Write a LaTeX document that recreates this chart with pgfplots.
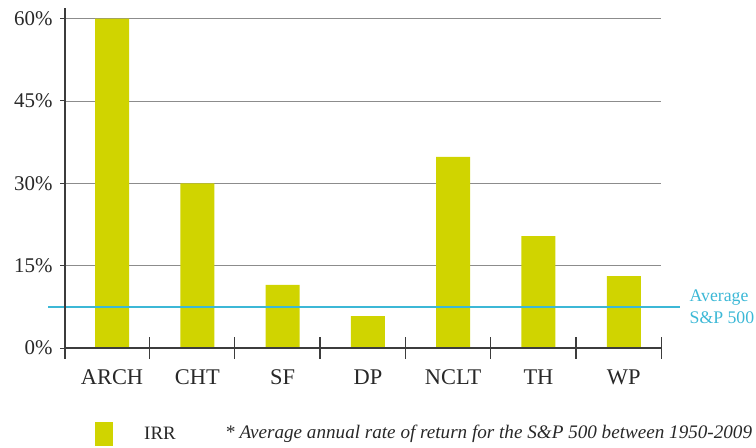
\documentclass[border=0pt]{standalone}
\usepackage{pgfplots}
\pgfplotsset{compat=1.18}
\usepackage{fontspec}
\setmainfont{Liberation Serif}
\definecolor{barc}{RGB}{208,212,0}
\definecolor{avgc}{RGB}{60,184,214}
\definecolor{axc}{RGB}{60,60,60}
\definecolor{gridc}{RGB}{140,140,140}
\definecolor{txtc}{RGB}{40,40,40}
\begin{document}
\begin{tikzpicture}
\useasboundingbox (0,0) rectangle (756bp,448bp);
\begin{axis}[
  at={(65.1bp,89bp)}, anchor=south west,
  scale only axis, width=596.2bp, height=350.8bp,
  xmin=-0.55, xmax=6.44, ymin=-2, ymax=61.9,
  axis line style={draw=none},
  clip=false,
  xtick={0,1,2,3,4,5,6},
  xticklabels={ARCH,CHT,SF,DP,NCLT,TH,WP},
  x tick label style={font=\fontsize{22.5}{26}\selectfont, text=txtc, yshift=-2bp},
  major x tick style={draw=none},
  ytick={0,15,30,45,60},
  yticklabels={0\%,15\%,30\%,45\%,60\%},
  ytick pos=left,
  y tick label style={font=\fontsize{21}{24}\selectfont, text=txtc, xshift=-4bp},
  y tick style={axc, line width=1bp},
  tick align=outside, major tick length=5bp,
  ymajorgrids, grid style={gridc, line width=0.9bp},
  legend style={at={(axis description cs:0.0502,-0.2138)}, anchor=west,
    draw=none, fill=none, inner sep=0pt,
    font=\fontsize{19}{22}\selectfont, text=txtc,
    /tikz/every odd column/.append style={column sep=29bp}},
  legend image code/.code={\fill[barc] (0bp,-12bp) rectangle (18bp,12bp);},
]
\addplot[ybar, bar width=34bp, fill=barc, draw=none]
  coordinates {(0,60) (1,30) (2,11.5) (3,5.8) (4,34.8) (5,20.4) (6,13.1)};
\addlegendentry{IRR}
\addplot[avgc, line width=1.4bp, forget plot]
  coordinates {(-0.75,7.45) (6.66,7.45)};
\draw[axc, line width=1.3bp] (axis cs:-0.55,-2) -- (axis cs:-0.55,61.9);
\draw[axc, line width=1.3bp] (axis cs:-0.55,0) -- (axis cs:6.44,0);
\draw[axc, line width=1.3bp] (axis cs:0.44,-2) -- (axis cs:0.44,2);
\draw[axc, line width=1.3bp] (axis cs:1.44,-2) -- (axis cs:1.44,2);
\draw[axc, line width=1.3bp] (axis cs:2.44,-2) -- (axis cs:2.44,2);
\draw[axc, line width=1.3bp] (axis cs:3.44,-2) -- (axis cs:3.44,2);
\draw[axc, line width=1.3bp] (axis cs:4.44,-2) -- (axis cs:4.44,2);
\draw[axc, line width=1.3bp] (axis cs:5.44,-2) -- (axis cs:5.44,2);
\draw[axc, line width=1.3bp] (axis cs:6.44,-2) -- (axis cs:6.44,2);
\node[anchor=west, align=left, text=avgc, font=\fontsize{17.8}{22}\selectfont, inner sep=0pt]
  at (axis cs:6.77,7.45) {Average\\S\&P 500};
\node[anchor=west, text=txtc, font=\itshape\fontsize{19.2}{22}\selectfont, inner sep=0pt]
  at (axis description cs:0.2682,-0.2138) {* Average annual rate of return for the S\&P 500 between 1950-2009};
\end{axis}
\end{tikzpicture}
\end{document}
